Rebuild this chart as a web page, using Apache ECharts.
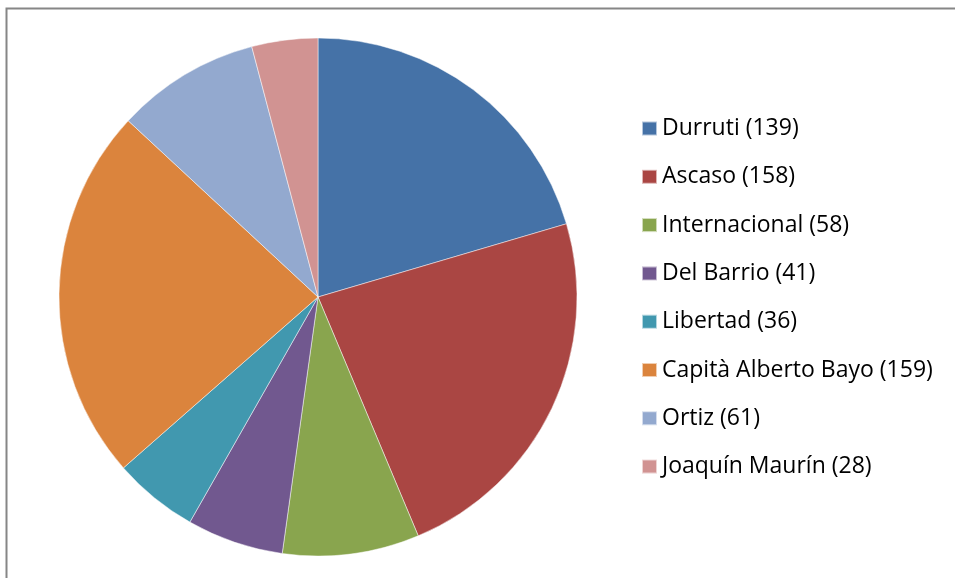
<!DOCTYPE html>
<html>
<head>
<meta charset="utf-8">
<script src="https://cdn.jsdelivr.net/npm/echarts@6/dist/echarts.min.js"></script>
<style>
  html, body { margin: 0; padding: 0; background: #fff; }
  #chart { width: 955px; height: 578px; }
</style>
</head>
<body>
<div id="chart"></div>
<script>
const names = ['Durruti', 'Ascaso', 'Internacional', 'Del Barrio', 'Libertad',
  'Capità Alberto Bayo', 'Ortiz', 'Joaquín Maurín'];
const counts = [139, 158, 58, 41, 36, 159, 61, 28];
const colors = ['#4572A7', '#AA4643', '#89A54E', '#71588F', '#4198AF',
  '#DB843D', '#93A9CF', '#D19392'];

const chart = echarts.init(document.getElementById('chart'));
chart.setOption({
  animation: false,
  color: colors,
  graphic: [{
    type: 'rect',
    shape: { x: 6.5, y: 8.5, width: 1000, height: 1000 },
    style: { fill: 'none', stroke: '#868686', lineWidth: 2 },
  }],
  legend: {
    orient: 'vertical',
    left: 641,
    top: 117,
    padding: 0,
    itemWidth: 15,
    itemHeight: 14,
    itemGap: 25.3,
    icon: 'rect',
    textStyle: {
      fontFamily: 'Open Sans',
      fontSize: 23,
      lineHeight: 20,
      color: '#000',
    },
    formatter: (name) => `${name} (${counts[names.indexOf(name)]})`,
  },
  series: [{
    type: 'pie',
    center: [318, 297],
    radius: 259,
    startAngle: 90,
    clockwise: true,
    label: { show: false },
    labelLine: { show: false },
    itemStyle: { borderColor: 'rgba(255,255,255,0.6)', borderWidth: 0.8 },
    data: names.map((n, i) => ({ name: n, value: counts[i] })),
  }],
});
</script>
</body>
</html>
